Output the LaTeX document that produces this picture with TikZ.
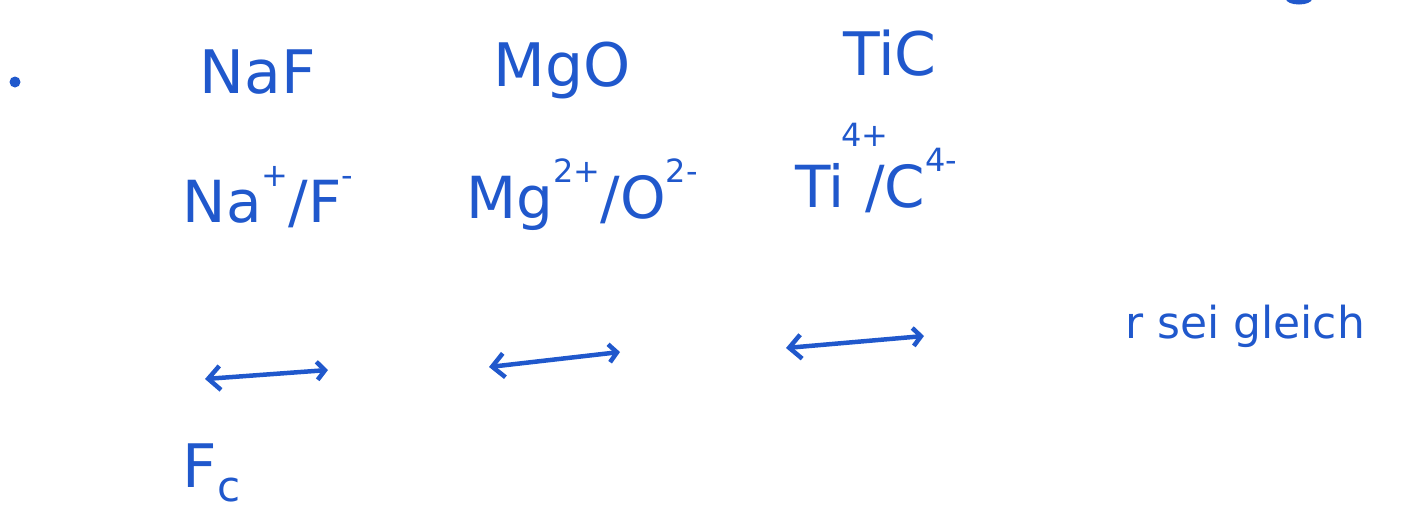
\documentclass[tikz,border=0pt]{standalone}
\usepackage{fontspec}
\setmainfont{DejaVu Sans}
\usetikzlibrary{arrows.meta}
\definecolor{inkblue}{RGB}{32,88,204}
\newcommand{\hsup}[2][0.62em]{\raisebox{#1}{\fontsize{32}{34}\selectfont #2}}

\begin{document}
\begin{tikzpicture}[x=1pt,y=-1pt]
\tikzset{
  ink/.style={text=inkblue, inner sep=0pt, anchor=base, font={\fontsize{60}{66}\selectfont}},
  inkion/.style={ink, font={\fontsize{58}{64}\selectfont}},
  pull/.style={draw=inkblue, line width=4.5pt, line cap=round, {Straight Barb[length=12pt,width=24pt]}-{Straight Barb[length=8pt,width=18pt]}}
}
\useasboundingbox (0,0) rectangle (1402,515);
% Aufzaehlungspunkt
\fill[inkblue] (15,82) circle (5.5);
% Randstueck oben rechts
\fill[inkblue] (1286,-1) arc (180:0:13 and 5.5) -- cycle;
% Verbindungen
\node[ink] (naf) at (258,93) {NaF};
\node[ink] (mgo) at (562,86) {MgO};
\node[ink] (tic) at (890,75) {TiC};
% Ionen
\node[inkion] (naions) at (268,222) {Na\hsup{+}/F\hsup{-}};
\node[inkion] (mgions) at (582,218) {Mg\hsup{2+}/O\hsup{2-}};
\node[inkion] (tiions) at (876,207) {Ti\rlap{\hsup[1.05em]{\kern-0.1em 4+}}\kern0.35em/C\hsup{4-}};
% Abstaende
\coordinate (naleft) at (205,379);
\coordinate (naright) at (328,370);
\coordinate (mgleft) at (489,367);
\coordinate (mgright) at (620,352);
\coordinate (tileft) at (786,348);
\coordinate (tiright) at (924,336);
\draw[pull] (naleft) -- (naright);
\draw[pull] (mgleft) -- (mgright);
\draw[pull] (tileft) -- (tiright);
\node[ink, font={\fontsize{44}{50}\selectfont}] (gleich) at (1245,338) {r sei gleich};
\node[ink] (fc) at (212,487) {F\textsubscript{c}};
\end{tikzpicture}
\end{document}
